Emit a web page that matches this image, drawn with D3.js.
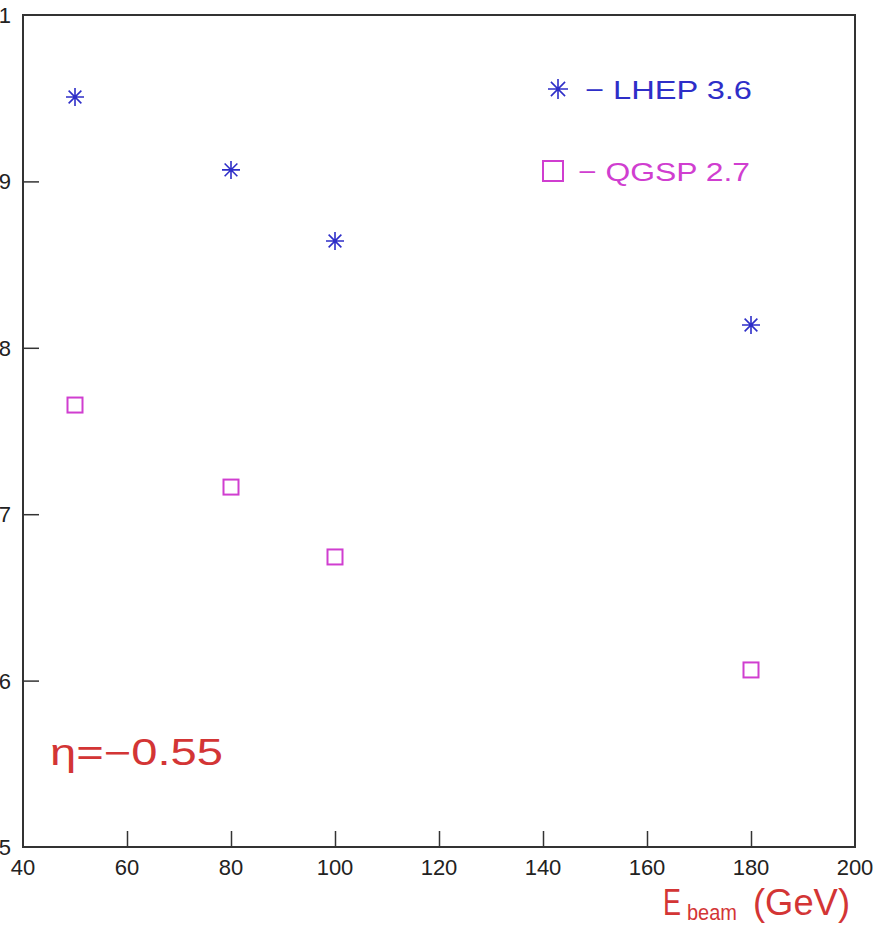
<!DOCTYPE html>
<html>
  <head>
    <meta charset="utf-8">
    <title></title>
    <script src="https://cdnjs.cloudflare.com/ajax/libs/d3/7.8.5/d3.min.js"></script>
    <style>
      body { margin: 0; background-color: white }
      svg text { font-family: "Liberation Sans", Arial, sans-serif }
    </style>
  </head>
  <body>
    <div id="chart"></div>
  </body>
<script>
// beam energies and the two series
var energies = [50, 80, 100, 180];
var lhep = [0.9507, 0.9069, 0.8642, 0.8137];
var qgsp = [0.7656, 0.7163, 0.6743, 0.6064];

var xTicks = [40, 60, 80, 100, 120, 140, 160, 180, 200];
var yTicks = [1.0, 0.9, 0.8, 0.7, 0.6, 0.5];
var yTickLabels = ["1", "9", "8", "7", "6", "5"];   // leading "0." is cut off in the original

var W = 879, H = 927;
var mL = 23, mR = 855, mT = 15, mB = 847;

var blue = "#2e2ec8", magenta = "#d03ed0", red = "#d33535", frame = "#333";

var svg = d3.select("#chart").append("svg")
    .attr("width", W)
    .attr("height", H);

var x = d3.scaleLinear().domain([40, 200]).range([mL, mR]);
var y = d3.scaleLinear().domain([0.5, 1.0]).range([mB, mT]);

// frame
svg.append("rect")
    .attr("x", mL).attr("y", mT)
    .attr("width", mR - mL).attr("height", mB - mT)
    .attr("fill", "none").attr("stroke", frame).attr("stroke-width", 2);

// inner ticks on bottom axis
var xa = d3.axisTop(x).tickValues(xTicks.slice(1, -1)).tickSize(16).tickFormat("");
svg.append("g").attr("transform", "translate(0," + mB + ")").call(xa)
    .call(function(g){
	g.select(".domain").remove();
	g.selectAll("line").attr("stroke", frame).attr("stroke-width", 1.5);
    });

// inner ticks on left axis
var ya = d3.axisRight(y).tickValues(yTicks.slice(1, -1)).tickSize(16).tickFormat("");
svg.append("g").attr("transform", "translate(" + mL + ",0)").call(ya)
    .call(function(g){
	g.select(".domain").remove();
	g.selectAll("line").attr("stroke", frame).attr("stroke-width", 1.5);
    });

// tick labels
svg.selectAll("text.xl").data(xTicks).enter().append("text")
    .attr("class", "xl")
    .attr("x", function(d){ return x(d); })
    .attr("y", mB + 28)
    .attr("text-anchor", "middle")
    .attr("font-size", 22)
    .attr("fill", "#222")
    .text(function(d){ return d; });

svg.selectAll("text.yl").data(yTicks).enter().append("text")
    .attr("class", "yl")
    .attr("x", 11)
    .attr("y", function(d){ return y(d) + 8; })
    .attr("text-anchor", "end")
    .attr("font-size", 22)
    .attr("fill", "#222")
    .text(function(d, i){ return yTickLabels[i]; });

// markers
function star(r) {
    var p = d3.path(), k = r * Math.SQRT1_2;
    p.moveTo(-r, 0); p.lineTo(r, 0);
    p.moveTo(0, -r); p.lineTo(0, r);
    p.moveTo(-k, -k); p.lineTo(k, k);
    p.moveTo(-k, k); p.lineTo(k, -k);
    return p.toString();
}

svg.selectAll("path.lhep").data(energies).enter().append("path")
    .attr("class", "lhep")
    .attr("d", star(9))
    .attr("transform", function(d, i){ return "translate(" + x(d) + "," + y(lhep[i]) + ")"; })
    .attr("stroke", blue).attr("stroke-width", 1.6).attr("fill", "none");

svg.selectAll("rect.qgsp").data(energies).enter().append("rect")
    .attr("class", "qgsp")
    .attr("x", function(d){ return x(d) - 7.5; })
    .attr("y", function(d, i){ return y(qgsp[i]) - 7.5; })
    .attr("width", 15).attr("height", 15)
    .attr("stroke", magenta).attr("stroke-width", 2).attr("fill", "none");

// legend
svg.append("path").attr("d", star(10))
    .attr("transform", "translate(558,89)")
    .attr("stroke", blue).attr("stroke-width", 1.6).attr("fill", "none");
svg.append("text").attr("x", 585).attr("y", 99)
    .attr("font-size", 26).attr("fill", blue)
    .attr("textLength", 167).attr("lengthAdjust", "spacingAndGlyphs")
    .text("\u2212 LHEP 3.6");

svg.append("rect").attr("x", 543).attr("y", 161).attr("width", 20).attr("height", 20)
    .attr("stroke", magenta).attr("stroke-width", 2).attr("fill", "none");
svg.append("text").attr("x", 578).attr("y", 181)
    .attr("font-size", 26).attr("fill", magenta)
    .attr("textLength", 172).attr("lengthAdjust", "spacingAndGlyphs")
    .text("\u2212 QGSP 2.7");

// eta label
svg.append("text").attr("x", 50).attr("y", 765)
    .attr("font-size", 36).attr("fill", red)
    .attr("textLength", 173).attr("lengthAdjust", "spacingAndGlyphs")
    .text("\u03b7=\u22120.55");

// axis title
svg.append("text").attr("x", 663).attr("y", 915)
    .attr("font-size", 37).attr("fill", red)
    .attr("textLength", 18).attr("lengthAdjust", "spacingAndGlyphs")
    .text("E");
svg.append("text").attr("x", 687).attr("y", 920)
    .attr("font-size", 22).attr("fill", red)
    .attr("textLength", 50).attr("lengthAdjust", "spacingAndGlyphs")
    .text("beam");
svg.append("text").attr("x", 753).attr("y", 915)
    .attr("font-size", 37).attr("fill", red)
    .attr("textLength", 97).attr("lengthAdjust", "spacingAndGlyphs")
    .text("(GeV)");
</script>
</html>
